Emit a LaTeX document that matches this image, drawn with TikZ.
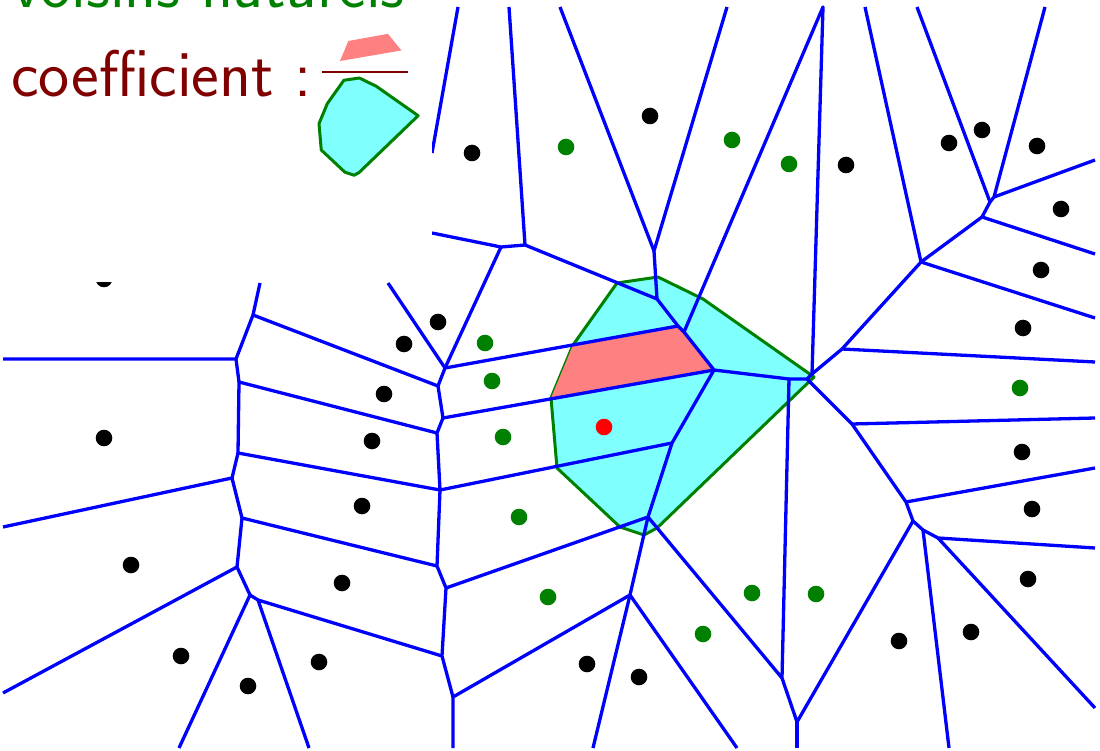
\documentclass[tikz,border=0pt]{standalone}
\usepackage{xcolor}
\definecolor{voro}{RGB}{0,0,255}
\definecolor{nat}{RGB}{0,128,0}
\definecolor{coef}{RGB}{128,0,0}
\definecolor{cell}{RGB}{128,255,255}
\definecolor{part}{RGB}{255,128,128}
\def\cellpath{(617,283)--(658,277)--(703,299)--(814,377)--(657,528)--(644,535)--(620,527)--(557,468)--(551,398)--(573,345)--cycle}
\def\partpath{(551,398)--(573,345)--(678,326)--(714,370)--cycle}

\begin{document}
\begin{tikzpicture}[x=1pt,y=-1pt,line join=round,
  edge/.style={voro,line width=3.3pt},
  border/.style={fill=cell,draw=nat,line width=3pt},
  every node/.style={font=\sffamily\fontsize{66}{76}\selectfont,anchor=base west,inner sep=0pt}]
\useasboundingbox (0,0) rectangle (1100,751);
\foreach \n/\p in {t1/{501,247},t2/{525,245},t3/{654,251},t4/{657,299},t5/{678,326},t6/{684,332},t7/{714,370},
  c1/{789,379},r1/{812,374},r2/{807,379},e1/{842,349},e2/{921,262},e3/{982,217},e4/{990,202},e5/{994,197},
  s1/{852,424},s2/{906,502},s3/{913,521},s4/{923,530},s5/{938,538},
  b1/{797,722},b2/{782,678},b3/{648,517},b4/{672,443},b5/{630,595},
  m1/{453,697},m2/{442,656},m3/{446,588},m4/{437,566},m5/{440,490},m6/{437,433},m7/{443,418},m8/{438,386},m9/{445,368},
  l1/{253,315},l2/{236,359},l3/{239,382},l4/{238,453},l5/{232,478},l6/{242,518},l7/{237,567},l8/{250,595},l9/{258,600}}
  \coordinate (\n) at (\p);
\filldraw[border] \cellpath;
\fill[part] \partpath;
\draw[edge] (458,7)--(432,153);
\draw[edge] (432,233)--(t1)--(t2)--(509,7); \draw[edge] (t1)--(m9);
\draw[edge] (t2)--(t4)--(t3)--(560,7); \draw[edge] (t3)--(727,7);
\draw[edge] (t4)--(t5)--(t6)--(t7)--(c1)--(r2)--(r1)--(823,7)--(t6);
\draw[edge] (r1)--(e1)--(e2)--(865,7); \draw[edge] (e1)--(1095,362); \draw[edge] (e2)--(1095,318);
\draw[edge] (e2)--(e3)--(e4)--(917,7); \draw[edge] (e3)--(1095,254);
\draw[edge] (e4)--(e5)--(1045,7); \draw[edge] (e5)--(1095,160);
\draw[edge] (r2)--(s1)--(s2)--(s3)--(s4)--(s5)--(1095,548); \draw[edge] (s1)--(1095,418); \draw[edge] (s2)--(1095,468);
\draw[edge] (s4)--(949,748); \draw[edge] (s5)--(1095,708);
\draw[edge] (s3)--(b1)--(b2)--(c1); \draw[edge] (b1)--(797,748);
\draw[edge] (b2)--(b3)--(b4)--(t7); \draw[edge] (b3)--(b5)--(m1)--(453,748); \draw[edge] (b5)--(593,748); \draw[edge] (b5)--(737,748);
\draw[edge] (b3)--(m3);
\draw[edge] (m1)--(m2)--(m3)--(m4)--(m5)--(m6)--(m7)--(m8)--(m9)--(388,283);
\draw[edge] (m9)--(t5); \draw[edge] (m7)--(t7); \draw[edge] (m5)--(b4);
\draw[edge] (m2)--(l9)--(309,748); \draw[edge] (l9)--(l8)--(179,748); \draw[edge] (l8)--(l7)--(3,693);
\draw[edge] (l7)--(l6)--(m4); \draw[edge] (l6)--(l5)--(3,527); \draw[edge] (l5)--(l4)--(m5);
\draw[edge] (l4)--(l3)--(m6); \draw[edge] (l3)--(l2)--(3,359); \draw[edge] (l2)--(l1)--(260,283); \draw[edge] (l1)--(m8);
\foreach \p in {(472,153),(650,116),(846,165),(949,143),(982,130),(1037,146),(1061,209),(1041,270),(1023,328),
  (1022,452),(1032,509),(1028,579),(971,632),(899,641),(639,677),(587,664),(319,662),(248,686),(181,656),(131,565),
  (342,583),(362,506),(372,441),(384,394),(404,344),(438,322),(104,438),(104,279)}
  \fill \p circle (8.3);
\foreach \p in {(566,147),(732,140),(789,164),(485,343),(492,381),(503,437),(519,517),(548,597),(703,634),(752,593),(816,594),(1020,388)}
  \fill[nat] \p circle (8.3);
\fill[red] (604,427) circle (8.3);
\fill[white] (0,0) rectangle (432,282);
\node[text=nat] (vois) at (12,8) {voisins naturels};
\node[text=coef] (coef) at (11,97) {coefficient :};
\draw[coef,line width=2.7pt] (322,72)--(408,72);
\begin{scope}[shift={(340,61)},scale=0.377,shift={(-551,-398)}]
\fill[part] \partpath;
\end{scope}
\begin{scope}[shift={(319,78)},scale=0.377,shift={(-551,-277)}]
\filldraw[border] \cellpath;
\end{scope}
\end{tikzpicture}
\end{document}
